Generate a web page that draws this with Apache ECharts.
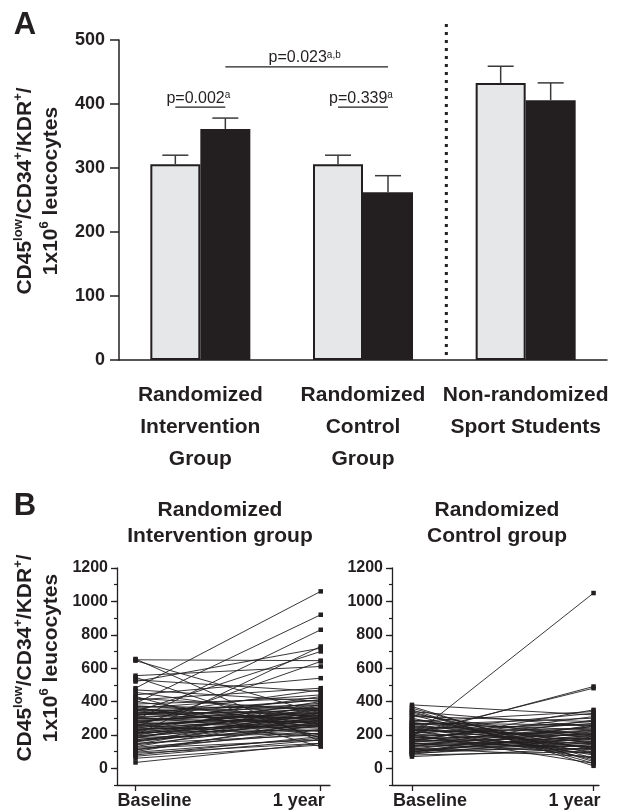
<!DOCTYPE html>
<html><head><meta charset="utf-8">
<script src="https://cdn.jsdelivr.net/npm/echarts@6/dist/echarts.min.js"></script>
<style>html,body{margin:0;padding:0;background:#fff}#c{width:619px;height:810px}</style>
</head><body><div id="c"></div>
<script>
// ---------- Panel A data ----------
const groups = ['Randomized\nIntervention\nGroup', 'Randomized\nControl\nGroup', 'Non-randomized\nSport Students'];
const baselineMean = [306, 306, 433];
const baselineErr = [14, 14, 26];
const yearMean = [361, 262, 406];
const yearErr = [17, 26, 27];
const panelATicks = [0, 100, 200, 300, 400, 500];

// p-value comparisons (category, side: -1 baseline / +1 one year)
const pText = ['p=0.002', 'p=0.339', 'p=0.023'];
const pSup = ['a', 'a', 'a,b'];
const pFromCat = [0, 1, 0];
const pFromSide = [-1, -1, 1];
const pToCat = [0, 1, 1];
const pToSide = [1, 1, 1];
const pLevel = [395, 395, 458];

// ---------- Panel B data ----------
const timeLabels = ['Baseline', '1 year'];
const panelBTicks = [0, 200, 400, 600, 800, 1000, 1200];
const intervBaseline = [
  650,655,645,555,545,530,520,480,470,455,
  440,430,420,410,400,390,385,375,370,365,
  360,355,350,345,340,335,330,325,320,315,
  310,305,300,295,290,285,280,275,270,265,
  260,255,250,245,240,235,230,225,220,215,
  210,205,200,195,190,185,180,170,165,160,
  150,140,130,120,110,100,90,80,60,35,
  345,330,318,300,288,276,262,248,236,224,
  212,198,186,174,158,144,126,112,96,72];
const intervYear = [
  645,160,330,610,180,460,720,1060,400,300,
  540,130,350,480,260,920,420,310,360,200,
  440,290,380,250,700,330,410,270,350,470,
  300,220,390,320,830,280,360,240,430,310,
  190,340,640,290,370,260,330,400,280,230,
  350,300,730,260,320,210,380,290,250,340,
  200,270,310,170,230,280,150,190,140,150,
  360,300,410,270,330,380,300,350,250,320,
  270,360,300,230,290,330,210,260,180,170];
const controlBaseline = [
  380,370,360,350,340,330,320,310,300,290,
  280,275,270,265,260,255,250,245,240,235,
  230,225,220,215,210,205,200,195,190,188,
  185,180,175,170,165,160,155,150,145,140,
  135,130,125,120,115,110,105,100,95,90,
  85,80,70,160,200,230,290,270,250,230,
  210,190,170,150,130,110,100,90,320,340];
const controlYear = [
  320,40,60,15,250,110,180,280,90,200,
  340,150,230,120,300,170,210,80,260,140,
  190,330,100,240,480,160,490,220,1050,130,
  270,200,110,310,180,150,250,90,210,170,
  130,290,190,70,230,160,120,200,260,140,
  180,100,120,350,30,60,150,260,120,200,
  280,90,230,130,250,180,150,220,50,30];

// ---------- styles ----------
const INK = '#231f20';
const FONT = "'Liberation Sans', Arial, Helvetica, sans-serif";
const BAR_W = 50;

const chart = echarts.init(document.getElementById('c'));

function errRender(side) {
  return function (params, api) {
    const c = api.value(0), m = api.value(1), e = api.value(2);
    const p0 = api.coord([c, m]);
    const p1 = api.coord([c, m + e]);
    const x = p0[0] + side * BAR_W / 2;
    return {
      type: 'group',
      children: [
        { type: 'line', shape: { x1: x, y1: p0[1], x2: x, y2: p1[1] }, style: { stroke: '#3a3a3a', lineWidth: 1.5 } },
        { type: 'line', shape: { x1: x - 13, y1: p1[1], x2: x + 13, y2: p1[1] }, style: { stroke: '#3a3a3a', lineWidth: 1.5 } }
      ]
    };
  };
}

function pRender(params, api) {
  const i = params.dataIndex;
  const y = api.coord([0, pLevel[i]])[1];
  const x1 = api.coord([pFromCat[i], 0])[0] + pFromSide[i] * BAR_W / 2;
  const x2 = api.coord([pToCat[i], 0])[0] + pToSide[i] * BAR_W / 2;
  return {
    type: 'group',
    children: [
      { type: 'line', shape: { x1: x1, y1: y, x2: x2, y2: y }, style: { stroke: INK, lineWidth: 1.3 } },
      { type: 'text', x: (x1 + x2) / 2 - 2, y: y - 1,
        style: { text: pText[i] + '{s|' + pSup[i] + '}', fill: INK, fontSize: 16, fontFamily: FONT,
          align: 'center', verticalAlign: 'bottom',
          rich: { s: { fontSize: 10, fontFamily: FONT, fill: INK, verticalAlign: 'top' } } } }
    ]
  };
}

function sepRender(params, api) {
  const x = (api.coord([1, 0])[0] + api.coord([2, 0])[0]) / 2 + 2;
  const yTop = api.coord([0, 525])[1];
  const yBot = api.coord([0, 0])[1];
  return { type: 'line', shape: { x1: x, y1: yTop, x2: x, y2: yBot },
    style: { stroke: INK, lineWidth: 3, lineDash: [3, 5] } };
}

function pairSeries(base, year, xi, yi) {
  return base.map((b, i) => ({
    type: 'line', xAxisIndex: xi, yAxisIndex: yi,
    data: [[0, b], [1, year[i]]],
    symbol: 'rect', symbolSize: 4.5, showSymbol: true,
    lineStyle: { color: INK, width: 0.9 }, itemStyle: { color: INK },
    silent: true, z: 3, animation: false
  }));
}

const labelBold = (size) => ({ fontSize: size, fontWeight: 'bold', color: INK, fontFamily: FONT });

function bX(gridIndex, min, max, padL, padR) {
  return {
    type: 'value', gridIndex: gridIndex, min: min, max: max,
    axisLine: { show: true, onZero: false, lineStyle: { color: INK, width: 1.3 } },
    axisTick: { show: true, customValues: [0, 1], length: 6, lineStyle: { color: INK, width: 1.3 } },
    axisLabel: {
      customValues: [0, 1], margin: 7,
      formatter: (v) => v === 0 ? '{l|' + timeLabels[0] + '}' : '{r|' + timeLabels[1] + '}',
      rich: {
        l: Object.assign({ padding: [0, 0, 0, padL] }, labelBold(18)),
        r: Object.assign({ padding: [0, padR, 0, 0] }, labelBold(18))
      }
    },
    splitLine: { show: false }
  };
}
function bYMajor(gridIndex) {
  return {
    type: 'value', gridIndex: gridIndex, min: -100, max: 1200, position: 'left',
    axisLine: { show: true, onZero: false, lineStyle: { color: INK, width: 1.3 } },
    axisTick: { show: true, customValues: panelBTicks, length: 6, lineStyle: { color: INK, width: 1.3 } },
    axisLabel: Object.assign({ customValues: panelBTicks, margin: 9, formatter: (v) => String(v) }, labelBold(16)),
    splitLine: { show: false }
  };
}
function bYMinor(gridIndex) {
  return {
    type: 'value', gridIndex: gridIndex, min: -100, max: 1200, interval: 100, position: 'left',
    axisLine: { show: false, onZero: false },
    axisTick: { show: true, length: 3, lineStyle: { color: INK, width: 1.2 } },
    axisLabel: { show: false },
    splitLine: { show: false }
  };
}

const yTitle = 'CD45{s|low}/CD34{s|+}/KDR{s|+}/\n1x10{s|6} leucocytes';
const yTitleStyle = {
  text: yTitle, fill: INK, fontSize: 21, fontWeight: 'bold', fontFamily: FONT, lineHeight: 26,
  align: 'center', verticalAlign: 'middle',
  rich: { s: { fontSize: 13, fontWeight: 'bold', fontFamily: FONT, fill: INK, verticalAlign: 'top' } }
};

const option = {
  animation: false,
  backgroundColor: '#fff',
  grid: [
    { left: 119, top: 40, width: 488, height: 320 },
    { left: 117, top: 568, width: 213, height: 218 },
    { left: 392, top: 568, width: 207, height: 218 }
  ],
  xAxis: [
    {
      type: 'category', gridIndex: 0, data: groups,
      axisLine: { show: true, lineStyle: { color: INK, width: 1.5 } },
      axisTick: { show: false },
      axisLabel: Object.assign({ interval: 0, lineHeight: 32, margin: 19 }, labelBold(21))
    },
    bX(1, -0.1, 1.05, 38, 44),
    bX(2, -0.11, 1.03, 36, 38)
  ],
  yAxis: [
    {
      type: 'value', gridIndex: 0, min: 0, max: 500, interval: 100,
      axisLine: { show: true, lineStyle: { color: INK, width: 1.5 } },
      axisTick: { show: true, length: 9, lineStyle: { color: INK, width: 1.5 } },
      axisLabel: Object.assign({ margin: 14 }, labelBold(18)),
      splitLine: { show: false }
    },
    bYMajor(1), bYMinor(1), bYMajor(2), bYMinor(2)
  ],
  series: [
    { type: 'bar', name: 'Baseline', xAxisIndex: 0, yAxisIndex: 0, data: baselineMean, barWidth: BAR_W, barGap: '0%',
      itemStyle: { color: '#e6e7e8', borderColor: INK, borderWidth: 2 }, z: 2 },
    { type: 'bar', name: '1 year', xAxisIndex: 0, yAxisIndex: 0, data: yearMean, barWidth: BAR_W, barGap: '0%',
      itemStyle: { color: INK }, z: 2 },
    { type: 'custom', xAxisIndex: 0, yAxisIndex: 0, clip: false, z: 4,
      data: baselineMean.map((m, i) => [i, m, baselineErr[i]]), renderItem: errRender(-1) },
    { type: 'custom', xAxisIndex: 0, yAxisIndex: 0, clip: false, z: 4,
      data: yearMean.map((m, i) => [i, m, yearErr[i]]), renderItem: errRender(1) },
    { type: 'custom', xAxisIndex: 0, yAxisIndex: 0, clip: false, z: 4,
      data: pLevel.map((v, i) => [pFromCat[i], v]), renderItem: pRender },
    { type: 'custom', xAxisIndex: 0, yAxisIndex: 0, clip: false, z: 4,
      data: [[1, 0]], renderItem: sepRender }
  ].concat(pairSeries(intervBaseline, intervYear, 1, 1))
   .concat(pairSeries(controlBaseline, controlYear, 2, 3)),
  graphic: [
    { type: 'text', x: 25, y: 25, style: { text: 'A', fill: INK, fontSize: 31, fontWeight: 'bold', fontFamily: FONT, align: 'center', verticalAlign: 'middle' } },
    { type: 'text', x: 25, y: 506, style: { text: 'B', fill: INK, fontSize: 31, fontWeight: 'bold', fontFamily: FONT, align: 'center', verticalAlign: 'middle' } },
    { type: 'text', x: 38, y: 191, rotation: Math.PI / 2, style: Object.assign({}, yTitleStyle) },
    { type: 'text', x: 38, y: 658, rotation: Math.PI / 2, style: Object.assign({}, yTitleStyle) },
    { type: 'text', x: 220, y: 523, style: { text: 'Randomized\nIntervention group', fill: INK, fontSize: 21, fontWeight: 'bold', fontFamily: FONT, lineHeight: 26, align: 'center', verticalAlign: 'middle' } },
    { type: 'text', x: 497, y: 523, style: { text: 'Randomized\nControl group', fill: INK, fontSize: 21, fontWeight: 'bold', fontFamily: FONT, lineHeight: 26, align: 'center', verticalAlign: 'middle' } }
  ]
};
chart.setOption(option);
</script>
</body></html>
